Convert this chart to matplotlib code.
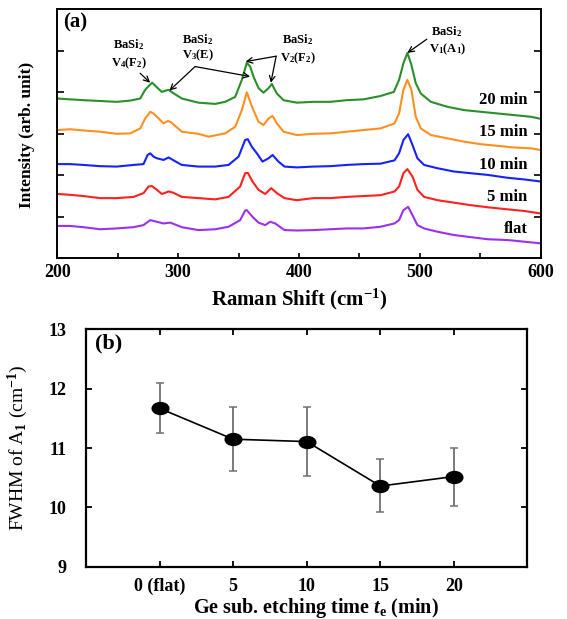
import numpy as np
import matplotlib.pyplot as plt
from matplotlib.path import Path
from matplotlib.transforms import Affine2D

plt.rcParams['font.family'] = ['Liberation Serif', 'DejaVu Serif']
plt.rcParams['font.weight'] = 'bold'
plt.rcParams['mathtext.fontset'] = 'custom'
plt.rcParams['mathtext.rm'] = 'Liberation Serif:bold'
plt.rcParams['mathtext.it'] = 'Liberation Serif:italic:bold'
plt.rcParams['mathtext.bf'] = 'Liberation Serif:bold'

# ── (a) Raman spectra (cm^-1, arb. unit) ─────────────────────────────────────
shift_20 = [200, 210.5, 221.6, 235.4, 249.2, 260.3, 268.6, 272.7, 276.9, 278.5, 282.4, 286.4,
            291.9, 296, 303, 316.8, 330.6, 338.9, 347.2, 352.7, 356.8, 359.6, 362.3, 366.5,
            370.6, 374.8, 377.5, 381.7, 387.2, 398.2, 412, 425.8, 439.6, 453.4, 467.4, 478.5,
            482.8, 486.4, 489.7, 493.0, 496.6, 500.8, 509.1, 522.9, 536.7, 550.5, 564.3,
            578.2, 592, 600]
int_20 = [3.85, 3.83, 3.81, 3.79, 3.77, 3.80, 3.85, 4.06, 4.19, 4.23, 4.12, 4.01,
          4.06, 3.98, 3.85, 3.75, 3.72, 3.77, 3.89, 4.30, 4.71, 4.62, 4.38, 4.10,
          3.99, 4.10, 4.20, 3.97, 3.81, 3.75, 3.77, 3.77, 3.81, 3.83, 3.91, 4.01,
          4.30, 4.70, 4.95, 4.66, 4.22, 3.97, 3.77, 3.65, 3.57, 3.53, 3.49,
          3.45, 3.41, 3.36]

shift_15 = [200, 210.5, 221.6, 235.4, 249.2, 260.3, 268.6, 272.7, 276.9, 279.6, 282.4, 287.9,
            291.5, 294, 303, 316.8, 325.1, 338.9, 347.2, 352.7, 356.8, 359.6, 362.3, 366.5,
            370.6, 374.8, 378.1, 381.7, 387.2, 398.2, 412, 425.8, 439.6, 453.4, 467.4, 479,
            482.8, 486.4, 489.7, 493, 496.6, 500.8, 509.1, 522.9, 536.7, 550.5, 564.3,
            578.2, 592, 600]
int_15 = [3.09, 3.11, 3.08, 3.05, 3.00, 3.01, 3.13, 3.37, 3.53, 3.49, 3.41, 3.25,
          3.31, 3.28, 3.05, 3.00, 2.93, 3.01, 3.17, 3.57, 4.00, 3.77, 3.57, 3.29,
          3.21, 3.37, 3.43, 3.25, 3.05, 2.97, 3.00, 3.01, 3.05, 3.09, 3.13, 3.25,
          3.49, 4.06, 4.30, 4.06, 3.41, 3.13, 2.97, 2.89, 2.81, 2.75, 2.71,
          2.67, 2.65, 2.61]

shift_10 = [200, 210.5, 221.6, 235.4, 249.2, 263.1, 271.3, 274.7, 276.9, 279.6, 282.4, 287.9,
            292.1, 295, 303, 316.8, 330.6, 341.7, 350, 355.4, 357.6, 360.9, 365.1, 369.8,
            374.8, 378.1, 383, 388, 398.2, 412, 425.8, 439.6, 453.4, 467.4, 479,
            482.8, 486.4, 490.3, 493.9, 498, 503.5, 514.6, 528.4, 542.2, 556, 572.6,
            586.5, 600]
int_10 = [2.27, 2.27, 2.25, 2.22, 2.21, 2.25, 2.27, 2.49, 2.53, 2.45, 2.41, 2.37,
          2.43, 2.38, 2.25, 2.21, 2.21, 2.25, 2.45, 2.85, 2.87, 2.69, 2.53, 2.33,
          2.41, 2.49, 2.33, 2.21, 2.19, 2.21, 2.22, 2.25, 2.27, 2.28, 2.36,
          2.53, 2.85, 2.99, 2.73, 2.41, 2.25, 2.17, 2.09, 2.05, 2.01, 1.94,
          1.90, 1.85]

shift_5 = [200, 210.5, 221.6, 235.4, 249.2, 263.1, 271.3, 275.5, 278.3, 282.4, 286.5, 292.1,
           296, 303, 316.8, 330.6, 341.7, 351.3, 355.4, 357.6, 361.5, 366.5, 372, 377,
           381.7, 388, 398.2, 412, 425.8, 439.6, 453.4, 467.4, 479, 482.8, 486.4,
           489.7, 493.9, 498, 503.5, 514.6, 528.4, 542.2, 556, 572.6, 586.5, 600]
int_5 = [1.55, 1.53, 1.50, 1.45, 1.45, 1.48, 1.57, 1.73, 1.74, 1.65, 1.55, 1.61,
         1.58, 1.48, 1.45, 1.42, 1.48, 1.73, 2.05, 2.06, 1.85, 1.65, 1.55, 1.69,
         1.57, 1.45, 1.40, 1.45, 1.45, 1.48, 1.50, 1.52, 1.61, 1.73, 2.05,
         2.15, 1.97, 1.65, 1.48, 1.40, 1.34, 1.28, 1.23, 1.18, 1.14, 1.08]

shift_flat = [200, 210.5, 221.6, 235.4, 249.2, 263.1, 271.3, 276.9, 282.4, 287.9, 293.5, 303,
              316.8, 330.6, 341.7, 351.3, 355.4, 356.8, 361.5, 366.5, 372, 376.1, 380.3, 388,
              398.2, 412, 425.8, 439.6, 453.4, 467.4, 479, 482.8, 486.4, 490.3, 493.9,
              498, 503.5, 514.6, 528.4, 542.2, 556, 572.6, 586.5, 600]
int_flat = [0.78, 0.78, 0.75, 0.70, 0.72, 0.75, 0.80, 0.92, 0.88, 0.84, 0.86, 0.75,
            0.68, 0.70, 0.76, 0.92, 1.15, 1.16, 1.00, 0.86, 0.80, 0.88, 0.84, 0.68,
            0.67, 0.68, 0.70, 0.72, 0.72, 0.76, 0.84, 0.92, 1.16, 1.24, 1.04,
            0.80, 0.72, 0.64, 0.56, 0.51, 0.46, 0.44, 0.40, 0.36]

spectra = [
    (shift_20, int_20, '#2a8f2a', '20 min', 3.81),
    (shift_15, int_15, '#ff8f1f', '15 min', 3.05),
    (shift_10, int_10, '#1422ff', '10 min', 2.25),
    (shift_5, int_5, '#ff2020', '5 min', 1.48),
    (shift_flat, int_flat, '#9a30f0', 'flat', 0.70),
]

# ── (b) FWHM of A1 peak ──────────────────────────────────────────────────────
etch_time = [0, 5, 10, 15, 20]
time_labels = ['0 (flat)', '5', '10', '15', '20']
fwhm = [11.67, 11.15, 11.11, 10.36, 10.52]
err_low = [0.41, 0.53, 0.58, 0.44, 0.49]
err_high = [0.42, 0.54, 0.59, 0.45, 0.48]

fig = plt.figure(figsize=(5.67, 6.19), dpi=100)

# --- panel (a) ---
axA = fig.add_axes([0.1011, 0.5827, 0.8525, 0.4023])
for xs, ys, col, lab, ly in spectra:
    axA.plot(xs, ys, color=col, lw=1.5)
    axA.text(589, ly, lab, ha='right', va='center', fontsize=12, fontweight='bold')

axA.set_xlim(200, 600)
axA.set_ylim(0, 6)
axA.set_xticks([200, 300, 400, 500, 600])
axA.set_xticks([250, 350, 450, 550], minor=True)
axA.set_yticks([1, 2, 3, 4, 5])
axA.set_yticklabels([])
axA.tick_params(axis='both', which='both', direction='in', width=1.2)
axA.tick_params(axis='y', which='major', left=True, right=True, length=5)
axA.tick_params(axis='x', which='both', length=3.5, labelsize=13, pad=4)
for s in axA.spines.values():
    s.set_linewidth(1.4)
axA.set_xlabel('Raman Shift (cm$^{-1}$)', fontsize=15, fontweight='bold', labelpad=4)
axA.set_ylabel('Intensity (arb. unit)', fontsize=12.5, fontweight='bold')
axA.yaxis.set_label_coords(-0.047, 0.495)
axA.text(0.012, 0.946, '(a)', transform=axA.transAxes, fontsize=15,
         fontweight='bold', va='center', ha='left')

# peak assignments
fs = 9
axA.text(259, 5.16, 'BaSi$_2$', ha='center', va='center', fontsize=fs)
axA.text(259, 4.70, 'V$_4$(F$_2$)', ha='center', va='center', fontsize=fs)
axA.text(316, 5.26, 'BaSi$_2$', ha='center', va='center', fontsize=fs)
axA.text(316, 4.90, 'V$_3$(E)', ha='center', va='center', fontsize=fs)
axA.text(399, 5.28, 'BaSi$_2$', ha='center', va='center', fontsize=fs)
axA.text(399, 4.82, 'V$_2$(F$_2$)', ha='center', va='center', fontsize=fs)
axA.text(522, 5.46, 'BaSi$_2$', ha='center', va='center', fontsize=fs)
axA.text(523, 5.04, 'V$_1$(A$_1$)', ha='center', va='center', fontsize=fs)

arrow = dict(arrowstyle='->', color='black', lw=0.9, shrinkA=0, shrinkB=0)
axA.annotate('', xy=(276.8, 4.23), xytext=(268.5, 4.46), arrowprops=arrow)
axA.annotate('', xy=(292.7, 4.04), xytext=(314, 4.62), arrowprops=arrow)
axA.annotate('', xy=(359.5, 4.38), xytext=(314, 4.62), arrowprops=arrow)
axA.annotate('', xy=(355.8, 4.74), xytext=(381.1, 4.87), arrowprops=arrow)
axA.annotate('', xy=(376.7, 4.23), xytext=(381.1, 4.87), arrowprops=arrow)
axA.annotate('', xy=(489.7, 4.95), xytext=(505.8, 5.28), arrowprops=arrow)

# --- panel (b) ---
axB = fig.add_axes([0.1517, 0.0845, 0.7786, 0.3832])
ellipse = Path.unit_circle().transformed(Affine2D().scale(1.4, 1.0))
axB.errorbar(etch_time, fwhm, yerr=[err_low, err_high], fmt='none',
             ecolor='#707070', elinewidth=1.3, capsize=2.8, capthick=1.1, zorder=2)
axB.plot(etch_time, fwhm, color='black', lw=1.2, marker=ellipse,
         markersize=12, markerfacecolor='black', markeredgecolor='black', zorder=3)

axB.set_xlim(-5, 25)
axB.set_ylim(9, 13)
axB.set_xticks(etch_time)
axB.set_xticklabels(time_labels)
axB.set_yticks([9, 10, 11, 12, 13])
axB.tick_params(axis='both', direction='in', length=4.5, width=1.3,
                top=True, right=True, labelsize=13)
axB.tick_params(axis='y', pad=14)
axB.tick_params(axis='x', pad=8)
for s in axB.spines.values():
    s.set_linewidth(1.6)
axB.set_ylabel('FWHM of A$_{1}$ (cm$^{-1}$)', fontsize=14, fontweight='normal')
axB.yaxis.set_label_coords(-0.127, 0.5)
axB.set_xlabel('Ge sub. etching time $t_\\mathrm{e}$ (min)', fontsize=14.5, fontweight='bold')
axB.xaxis.set_label_coords(0.522, -0.122)
axB.text(0.02, 0.942, '(b)', transform=axB.transAxes, fontsize=16,
         fontweight='bold', va='center', ha='left')

plt.savefig('out.png', dpi=100)
